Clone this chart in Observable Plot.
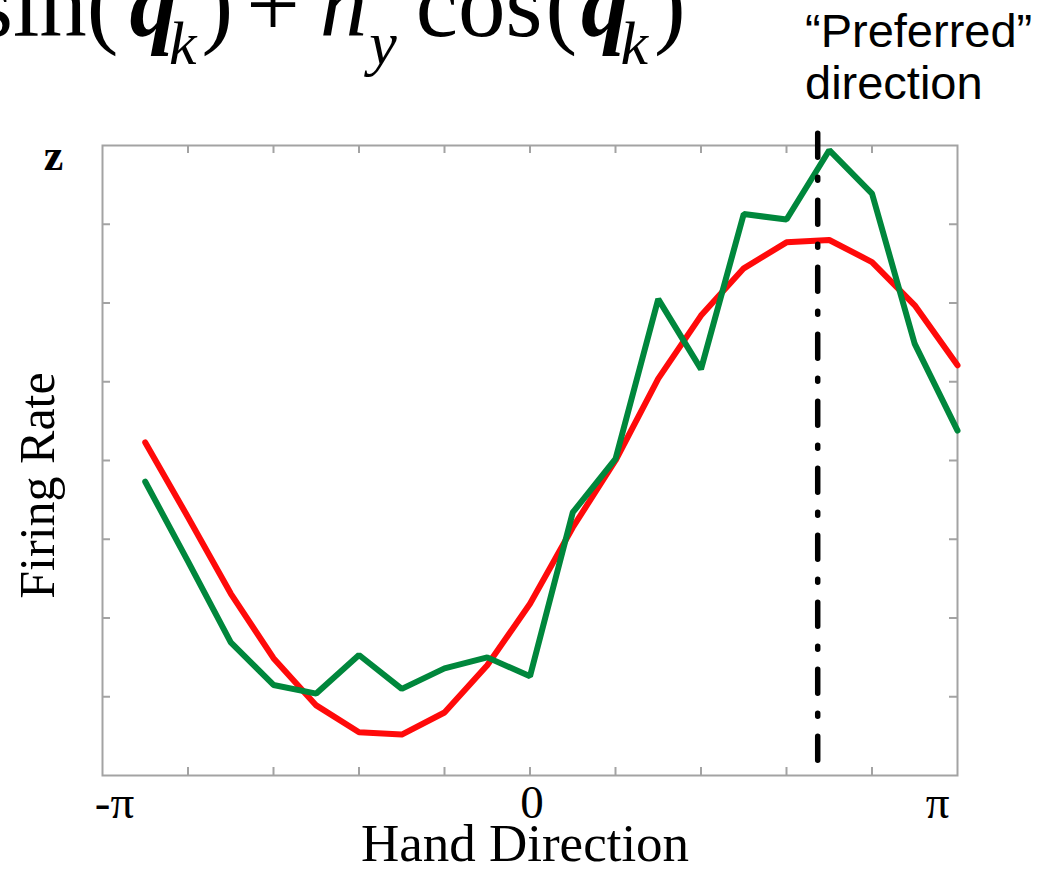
<!DOCTYPE html>
<html>
<head>
<meta charset="utf-8">
<script src="https://cdn.jsdelivr.net/npm/d3@7"></script>
<script src="https://cdn.jsdelivr.net/npm/@observablehq/plot@0.6"></script>
<style>
  html, body { margin: 0; padding: 0; background: #fff; }
  #wrap { position: relative; width: 1048px; height: 870px; overflow: hidden; background: #fff; }
  #chart { position: absolute; left: 0; top: 0; }
  #formula { position: absolute; left: -24px; top: -43px; font-family: "Liberation Serif", "Times New Roman", serif; font-size: 95px; line-height: 95px; white-space: nowrap; color: #000; }
  #formula .q { font-weight: bold; font-style: italic; }
  #formula .sub { font-style: italic; font-size: 62px; position: relative; top: 28px; }
  #pref { position: absolute; left: 805px; top: 5px; font-family: "Liberation Sans", Arial, sans-serif; font-size: 47px; line-height: 52px; color: #000; white-space: nowrap; }
</style>
</head>
<body>
<div id="wrap">
  <div id="chart"></div>
  <div id="formula">sin(<span class="q" style="margin-left:11px">q</span><span class="sub" style="margin-left:-8px">k</span><span style="margin-left:5px">)</span><span style="margin-left:13px">+</span><i style="margin-left:20px">h</i><span class="sub" style="margin-left:2px">y</span><span style="margin-left:19px">cos</span><span style="margin-left:3px">(</span><span class="q" style="margin-left:4px">q</span><span class="sub" style="margin-left:-8px">k</span><span style="margin-left:6px">)</span></div>
  <div id="pref">“Preferred”<br>direction</div>
</div>
<script>
// Hand direction (in units of π)
const handDirectionPi = [-0.9, -0.8, -0.7, -0.6, -0.5, -0.4, -0.3, -0.2, -0.1, 0.0,
                          0.1,  0.2,  0.3,  0.4,  0.5,  0.6,  0.7,  0.8,  0.9, 1.0];
// Observed firing rate (green)
const observedRate = [3.73, 2.72, 1.69, 1.15, 1.04, 1.53, 1.10, 1.36, 1.50, 1.26,
                      3.34, 4.02, 6.05, 5.16, 7.13, 7.06, 7.94, 7.39, 5.48, 4.38];
// Cosine-tuning fit (red)
const fittedRate = [4.23, 3.28, 2.31, 1.49, 0.89, 0.55, 0.52, 0.80, 1.40, 2.18,
                    3.15, 4.00, 5.04, 5.84, 6.44, 6.77, 6.80, 6.52, 5.97, 5.21];
// Preferred direction (units of π)
const preferredDirectionPi = [0.673];
// Axis ticks
const xTickPi = [-0.8, -0.6, -0.4, -0.2, 0, 0.2, 0.4, 0.6, 0.8];
const yTicks = [1, 2, 3, 4, 5, 6, 7];
const xTickLabels = ["-π", "0", "π"];
const xTickLabelPi = [-1, 0, 1];
const xLabel = "Hand Direction";
const yLabel = "Firing Rate";
const yTopLabel = "z";

const data = handDirectionPi.map((p, i) => ({
  dir: p * Math.PI, observed: observedRate[i], fit: fittedRate[i]
}));

const W = 1048, H = 870, mL = 102, mR = 91, mT = 145, mB = 95;
const frameW = W - mL - mR, frameH = H - mT - mB;
const gray = "#a3a3a3";
const serif = "'Liberation Serif', 'Times New Roman', serif";

const xt = xTickPi.map(p => p * Math.PI);

const chart = Plot.plot({
  width: W, height: H,
  marginLeft: mL, marginRight: mR, marginTop: mT, marginBottom: mB,
  x: { domain: [-Math.PI, Math.PI], axis: null },
  y: { domain: [0, 8], axis: null },
  style: { background: "transparent", overflow: "visible" },
  marks: [
    Plot.tickX(xt, { x: d => d, stroke: gray, strokeWidth: 2, insetTop: frameH - 8 }),
    Plot.tickX(xt, { x: d => d, stroke: gray, strokeWidth: 2, insetBottom: frameH - 8 }),
    Plot.tickY(yTicks, { y: d => d, stroke: gray, strokeWidth: 2, insetRight: frameW - 8 }),
    Plot.tickY(yTicks, { y: d => d, stroke: gray, strokeWidth: 2, insetLeft: frameW - 8 }),
    Plot.frame({ stroke: gray, strokeWidth: 2 }),
    Plot.line(data, { x: "dir", y: "fit", stroke: "#ff0a0a", strokeWidth: 6, strokeLinejoin: "round" }),
    Plot.line(data, { x: "dir", y: "observed", stroke: "#00873c", strokeWidth: 6, strokeLinejoin: "miter" }),
    Plot.ruleX(preferredDirectionPi, {
      x: d => d * Math.PI, y1: 8.15, y2: 0,
      stroke: "#000", strokeWidth: 5.5, strokeDasharray: "24,20,3,20", strokeLinecap: "round"
    }),
    Plot.text([xTickLabels[0]], { x: () => xTickLabelPi[0] * Math.PI, frameAnchor: "bottom", dy: 27, dx: 12, fontSize: 47, fontFamily: serif, fill: "#000", lineAnchor: "middle" }),
    Plot.text([xTickLabels[1]], { x: () => xTickLabelPi[1] * Math.PI, frameAnchor: "bottom", dy: 27, dx: 2, fontSize: 47, fontFamily: serif, fill: "#000", lineAnchor: "middle" }),
    Plot.text([xTickLabels[2]], { x: () => xTickLabelPi[2] * Math.PI, frameAnchor: "bottom", dy: 27, dx: -20, fontSize: 47, fontFamily: serif, fill: "#000", lineAnchor: "middle" }),
    Plot.text([xLabel], { frameAnchor: "bottom", dy: 69, dx: -5, fontSize: 53, fontFamily: serif, fill: "#000", textAnchor: "middle", lineAnchor: "middle" }),
    Plot.text([yLabel], { frameAnchor: "left", dx: -65, dy: 25, rotate: -90, fontSize: 50, fontFamily: serif, fill: "#000", textAnchor: "middle", lineAnchor: "middle" }),
    Plot.text([yTopLabel], { frameAnchor: "top-left", dx: -49, dy: 10, fontSize: 44, fontWeight: "bold", fontFamily: serif, fill: "#000", textAnchor: "middle", lineAnchor: "middle" })
  ]
});
document.getElementById("chart").appendChild(chart);
</script>
</body>
</html>
